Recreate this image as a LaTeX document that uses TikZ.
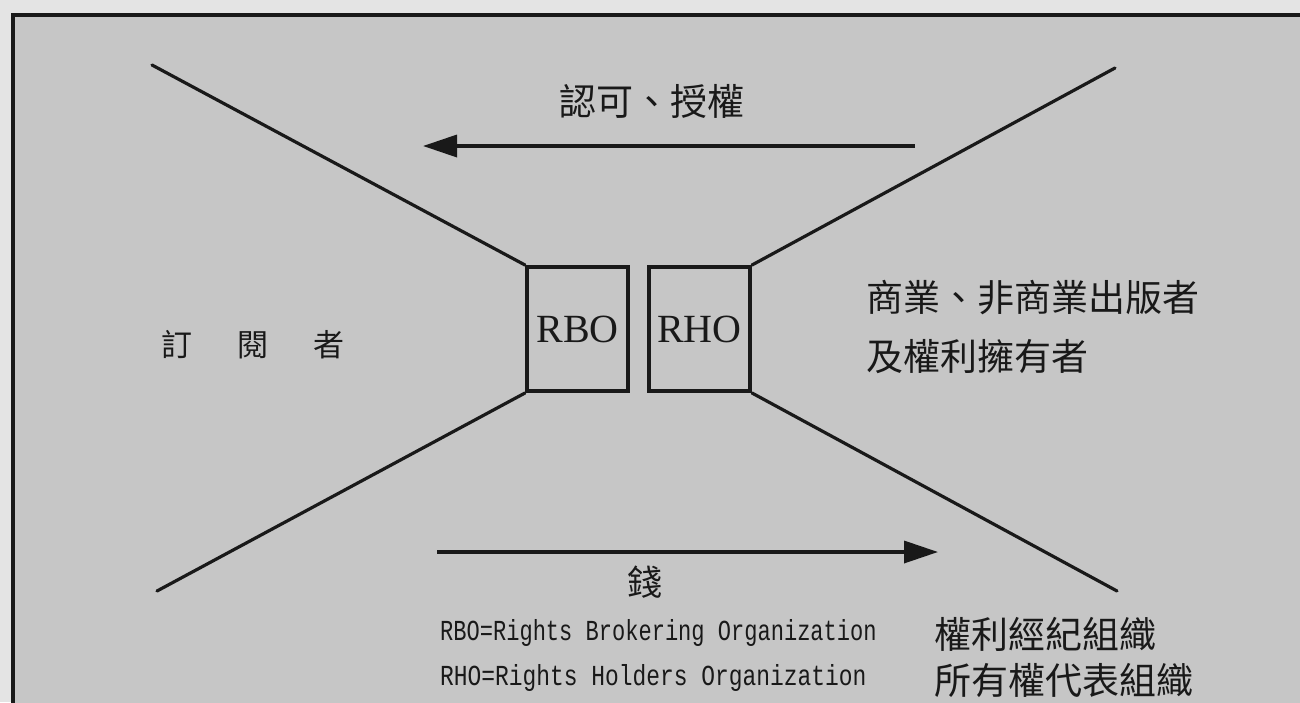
\documentclass[tikz,border=0pt]{standalone}
\usepackage{fontspec}
\usepackage{graphicx}
\setmainfont{Liberation Serif}
\newfontfamily\cjk{Noto Sans CJK TC}
\newfontfamily\legendfont{Liberation Mono}
\usetikzlibrary{arrows.meta}
\definecolor{outerbg}{RGB}{228,228,228}
\definecolor{innerbg}{RGB}{198,198,198}
\definecolor{ink}{RGB}{25,25,25}
\tikzset{
  orgbox/.style={draw=ink, line width=4pt, minimum width=101pt, minimum height=124pt, inner sep=0pt, font=\fontsize{40}{40}\selectfont, text=ink},
  lin/.style={draw=ink, line width=3.2pt, line cap=round},
  flow/.style={draw=ink, line width=3.5pt, -{Triangle[length=34pt,width=22pt]}},
  cjklabel/.style={font=\cjk\fontsize{37}{37}\selectfont, text=ink, inner sep=0pt},
  legend/.style={font=\legendfont\fontsize{29}{29}\selectfont, text=ink, inner sep=0pt, anchor=west}
}
\begin{document}
\begin{tikzpicture}[x=1pt,y=-1pt]
\clip (0,0) rectangle (1300,702);
\fill[outerbg] (0,0) rectangle (1300,702);
\draw[draw=ink, line width=4pt, fill=innerbg] (13,15) rectangle (1330,730);

\node[orgbox] (rbo) at (577.5,329) {RBO};
\node[orgbox] (rho) at (699.5,329) {RHO};

\coordinate (tl) at (152,65);
\coordinate (bl) at (157,591);
\coordinate (tr) at (1115,68);
\coordinate (br) at (1117,591);
\draw[lin] (tl) -- (rbo.north west);
\draw[lin] (bl) -- (rbo.south west);
\draw[lin] (tr) -- (rho.north east);
\draw[lin] (br) -- (rho.south east);

\coordinate (a1s) at (915,146);
\coordinate (a1e) at (423,146);
\draw[flow] (a1s) -- (a1e);
\coordinate (a2s) at (437,552);
\coordinate (a2e) at (938,552);
\draw[flow] (a2s) -- (a2e);

\node[cjklabel] (auth) at (652,101) {認可、授權};
\node[cjklabel, font=\cjk\fontsize{35}{35}\selectfont] (money) at (645,582) {錢};
\node[cjklabel, font=\cjk\fontsize{31}{31}\selectfont] (sub) at (253,345) {訂\hspace{45pt}閱\hspace{45pt}者};
\node[cjklabel, anchor=west] (pub1) at (866,298) {商業、非商業出版者};
\node[cjklabel, anchor=west] (pub2) at (866,357) {及權利擁有者};

\node[legend] (leg1) at (440,633) {\scalebox{0.76}[1]{RBO=Rights Brokering Organization}};
\node[legend] (leg2) at (440,678) {\scalebox{0.79}[1]{RHO=Rights Holders Organization}};
\node[cjklabel, anchor=west] (leg1c) at (934,634) {權利經紀組織};
\node[cjklabel, anchor=west] (leg2c) at (934,680) {所有權代表組織};
\end{tikzpicture}
\end{document}
